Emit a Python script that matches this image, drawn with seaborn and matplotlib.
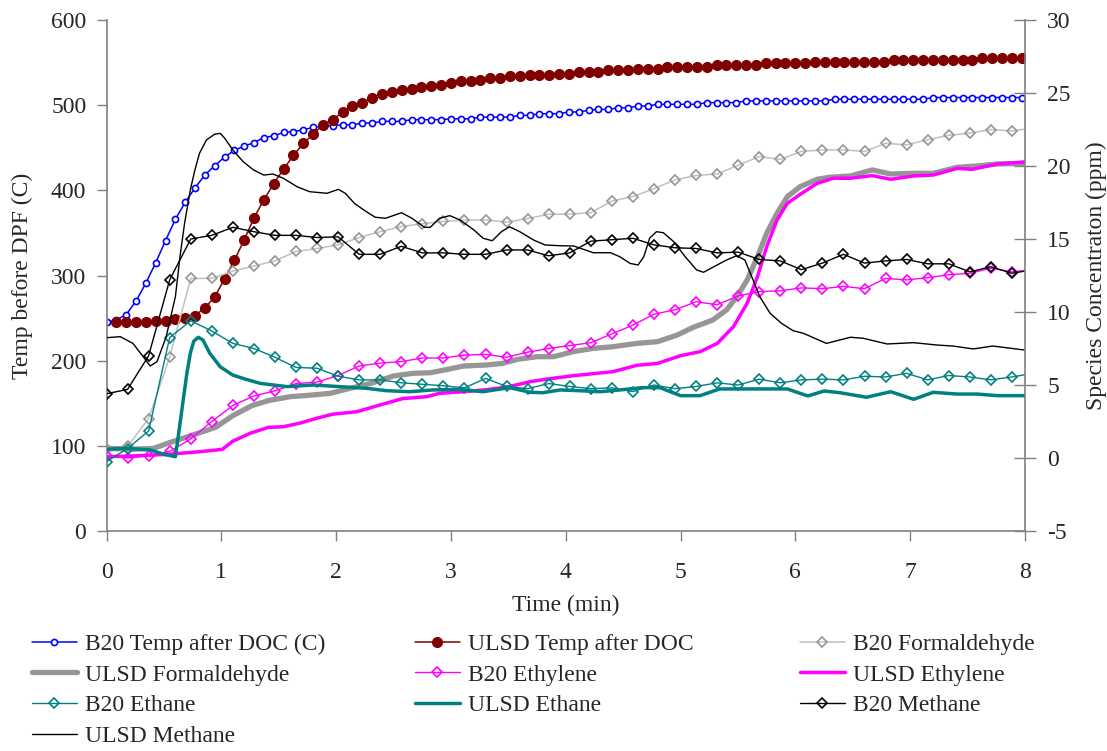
import numpy as np
import matplotlib
matplotlib.use("Agg")
import matplotlib.pyplot as plt
import seaborn as sns

# ---- data ----
# temperatures (left axis), sampled every ~5.1 s
TEMP_STEP = 0.0857
b20_temp = [245, 248, 254, 270, 291, 315, 341, 366, 386, 403,
            418, 429, 439, 447, 452, 456, 462, 464, 468, 469,
            471, 474, 475, 476, 477, 477, 479, 479, 481, 481,
            481, 483, 483, 483, 483, 484, 484, 484, 486, 486,
            486, 486, 488, 488, 490, 490, 490, 492, 492, 494,
            495, 495, 497, 497, 499, 499, 501, 501, 501, 501,
            501, 503, 503, 503, 503, 505, 505, 505, 505, 505,
            505, 505, 505, 505, 507, 507, 507, 507, 507, 507,
            507, 507, 507, 507, 509, 509, 509, 509, 509, 509,
            509, 509, 509, 509, 509]
# ULSD temperature starts one sample later
ulsd_temp = [245, 245, 245, 245, 247, 247, 249, 250, 253,
             262, 275, 296, 318, 342, 368, 389, 408, 425, 441,
             455, 466, 477, 483, 492, 499, 503, 509, 513, 516,
             518, 519, 521, 522, 524, 526, 528, 528, 530, 532,
             532, 534, 534, 535, 535, 535, 537, 537, 539, 539,
             539, 541, 541, 541, 543, 543, 543, 545, 545, 545,
             545, 545, 547, 547, 547, 547, 547, 549, 549, 549,
             549, 549, 551, 551, 551, 551, 551, 551, 551, 551,
             553, 553, 553, 553, 553, 553, 553, 553, 553, 555,
             555, 555, 555, 555, 555]

# B20 species (right axis), sampled every ~11 s
B20_STEP = 0.1834
b20_formaldehyde = [0.65, 0.8, 2.7, 6.9, 12.3, 12.3, 12.8, 13.15, 13.5, 14.15,
                    14.35, 14.6, 15.1, 15.5, 15.85, 16.05, 16.2, 16.3, 16.3, 16.15,
                    16.4, 16.7, 16.7, 16.8, 17.6, 17.9, 18.45, 19.05, 19.35, 19.45,
                    20.05, 20.65, 20.45, 21.0, 21.1, 21.1, 21.0, 21.55, 21.45, 21.8,
                    22.1, 22.25, 22.5, 22.4, 22.6]
b20_ethylene = [0.15, 0.0, 0.15, 0.45, 1.3, 2.5, 3.6, 4.25, 4.6, 5.1,
                5.2, 5.65, 6.3, 6.5, 6.6, 6.85, 6.85, 7.05, 7.1, 6.9,
                7.25, 7.5, 7.7, 7.9, 8.5, 9.1, 9.85, 10.15, 10.7, 10.5,
                11.1, 11.4, 11.45, 11.65, 11.6, 11.75, 11.6, 12.3, 12.2, 12.35,
                12.55, 12.65, 13.0, 12.75, 12.9]
b20_ethane = [-0.25, 0.65, 1.85, 8.25, 9.4, 8.7, 7.85, 7.5, 6.9, 6.2,
              6.15, 5.6, 5.35, 5.35, 5.15, 5.05, 4.95, 4.8, 5.45, 4.9,
              4.75, 5.1, 4.9, 4.75, 4.8, 4.55, 5.0, 4.75, 4.9, 5.15,
              5.0, 5.4, 5.15, 5.35, 5.4, 5.35, 5.6, 5.55, 5.8, 5.35,
              5.65, 5.55, 5.35, 5.55, 5.8]
b20_methane = [4.4, 4.7, 7.0, 12.2, 15.0, 15.25, 15.8, 15.5, 15.25, 15.25,
               15.1, 15.15, 13.95, 13.95, 14.5, 14.05, 14.05, 13.95, 13.95, 14.25,
               14.25, 13.85, 14.05, 14.85, 14.95, 15.05, 14.6, 14.4, 14.35, 14.05,
               14.1, 13.6, 13.5, 12.9, 13.35, 13.95, 13.35, 13.5, 13.6, 13.3,
               13.3, 12.75, 13.1, 12.65, 12.9]

# ULSD species (right axis), read at the curve's turning points
t_ulsd_form = [0.0, 0.23, 0.41, 0.53, 0.70, 0.81, 0.95, 1.10, 1.27, 1.42,
               1.60, 1.77, 1.95, 2.12, 2.30, 2.50, 2.67, 2.82, 2.97, 3.11,
               3.31, 3.45, 3.58, 3.75, 3.89, 3.95, 4.06, 4.24, 4.41, 4.62,
               4.80, 4.97, 5.11, 5.28, 5.40, 5.49, 5.58, 5.67, 5.75, 5.84,
               5.93, 6.04, 6.19, 6.30, 6.48, 6.67, 6.83, 7.03, 7.20, 7.41,
               7.58, 7.76, 8.04]
ulsd_formaldehyde = [0.66, 0.6, 0.66, 1.0, 1.44, 1.73, 2.1, 2.9, 3.6, 3.95,
                     4.2, 4.3, 4.43, 4.77, 5.11, 5.62, 5.8, 5.84, 6.07, 6.3,
                     6.37, 6.48, 6.76, 6.94, 6.94, 7.05, 7.28, 7.51, 7.62, 7.85,
                     7.97, 8.42, 8.95, 9.45, 10.14, 11.05, 12.19, 13.79, 15.39, 16.76,
                     17.9, 18.58, 19.09, 19.23, 19.32, 19.73, 19.45, 19.5, 19.5, 19.91,
                     20.0, 20.14, 20.18]

t_ulsd_ethylene = [0.0, 0.23, 0.53, 0.81, 0.96, 1.01, 1.10, 1.25, 1.41, 1.54,
                   1.69, 1.83, 1.97, 2.18, 2.38, 2.58, 2.79, 2.90, 3.11, 3.31,
                   3.51, 3.69, 3.86, 4.08, 4.41, 4.62, 4.80, 5.00, 5.17, 5.32,
                   5.46, 5.58, 5.67, 5.75, 5.84, 5.93, 6.04, 6.19, 6.33, 6.48,
                   6.67, 6.83, 7.03, 7.20, 7.41, 7.54, 7.76, 8.04]
ulsd_ethylene = [0.09, 0.14, 0.25, 0.43, 0.55, 0.6, 1.15, 1.69, 2.1, 2.14,
                 2.4, 2.72, 3.0, 3.17, 3.63, 4.07, 4.2, 4.43, 4.54, 4.68,
                 4.89, 5.23, 5.43, 5.65, 5.91, 6.35, 6.48, 7.01, 7.28, 7.85,
                 8.99, 10.6, 12.42, 14.47, 16.3, 17.44, 18.05, 18.81, 19.16, 19.16,
                 19.34, 19.09, 19.32, 19.38, 19.84, 19.77, 20.14, 20.3]

t_ulsd_ethane = [0.0, 0.18, 0.38, 0.50, 0.60, 0.62, 0.66, 0.70, 0.73, 0.76,
                 0.80, 0.84, 0.90, 0.99, 1.10, 1.21, 1.34, 1.57, 1.80, 2.03,
                 2.27, 2.44, 2.64, 2.84, 3.08, 3.28, 3.51, 3.69, 3.80, 3.95,
                 4.12, 4.30, 4.47, 4.67, 4.82, 5.00, 5.17, 5.34, 5.93, 6.04,
                 6.11, 6.25, 6.39, 6.62, 6.83, 7.03, 7.20, 7.41, 7.58, 7.76,
                 8.04]
ulsd_ethane = [0.6, 0.66, 0.55, 0.25, 0.09, 1.2, 3.5, 5.8, 7.17, 8.0,
               8.27, 8.08, 7.17, 6.25, 5.68, 5.4, 5.11, 4.89, 5.0, 4.89,
               4.77, 4.61, 4.54, 4.66, 4.7, 4.54, 4.82, 4.5, 4.47, 4.66,
               4.61, 4.54, 4.66, 4.82, 4.82, 4.27, 4.27, 4.73, 4.73, 4.43,
               4.25, 4.59, 4.47, 4.16, 4.54, 4.02, 4.5, 4.38, 4.38, 4.27,
               4.27]

t_ulsd_methane = [0.0, 0.12, 0.23, 0.32, 0.38, 0.44, 0.52, 0.60, 0.64, 0.68,
                  0.73, 0.77, 0.81, 0.87, 0.94, 0.99, 1.03, 1.10, 1.19, 1.28,
                  1.37, 1.45, 1.54, 1.66, 1.77, 1.92, 2.02, 2.08, 2.16, 2.24,
                  2.34, 2.43, 2.57, 2.66, 2.77, 2.82, 2.90, 2.99, 3.08, 3.20,
                  3.28, 3.36, 3.44, 3.51, 3.60, 3.72, 3.82, 3.95, 4.07, 4.24,
                  4.39, 4.47, 4.56, 4.63, 4.68, 4.73, 4.79, 4.85, 4.94, 5.04,
                  5.14, 5.20, 5.29, 5.40, 5.49, 5.56, 5.62, 5.69, 5.78, 5.88,
                  5.98, 6.07, 6.27, 6.48, 6.59, 6.80, 7.03, 7.23, 7.37, 7.55,
                  7.72, 8.04]
ulsd_methane = [8.24, 8.31, 7.85, 6.94, 6.3, 6.6, 8.31, 11.05, 13.79, 16.07,
                18.36, 19.73, 20.87, 21.78, 22.17, 22.24, 21.9, 21.1, 20.3, 19.73,
                19.38, 19.45, 19.16, 18.58, 18.24, 18.13, 18.4, 18.13, 17.44, 16.99,
                16.49, 16.42, 16.8, 16.42, 15.8, 15.8, 16.42, 16.6, 16.3, 15.62,
                15.05, 14.88, 15.5, 15.84, 15.5, 14.93, 14.59, 14.54, 14.52, 14.06,
                14.06, 13.79, 13.33, 13.22, 13.79, 15.05, 15.5, 15.43, 14.82, 13.79,
                12.88, 12.72, 13.1, 13.56, 13.86, 13.56, 12.42, 11.05, 9.91, 9.22,
                8.72, 8.54, 7.85, 8.27, 8.2, 7.81, 7.9, 7.74, 7.67, 7.47,
                7.67, 7.35]

labels = ["B20 Temp after DOC (C)", "ULSD Temp after DOC", "B20 Formaldehyde",
          "ULSD Formaldehyde", "B20 Ethylene", "ULSD Ethylene",
          "B20 Ethane", "ULSD Ethane", "B20 Methane", "ULSD Methane"]

t_temp = np.arange(len(b20_temp)) * TEMP_STEP
t_b20 = np.arange(len(b20_methane)) * B20_STEP

# ---- figure ----
sns.set_style("white")
plt.rcParams['font.family'] = ['Liberation Serif', 'DejaVu Serif']
plt.rcParams['axes.unicode_minus'] = False
FS = 17
AXIS_GRAY = '#808080'

fig = plt.figure(figsize=(11.07, 7.51), dpi=100)
ax = fig.add_axes([106.5 / 1107, 1 - 531 / 751, (1025 - 106.5) / 1107, 511 / 751])
ax2 = ax.twinx()

handles = []

# temperatures on the left axis
sns.lineplot(x=t_temp, y=b20_temp, ax=ax, color='#0000FF', linewidth=1.1,
             marker='o', markersize=4.4, markerfacecolor='white',
             markeredgecolor='#0000FF', markeredgewidth=1.2)
handles.append(ax.lines[-1])
sns.lineplot(x=t_temp[1:], y=ulsd_temp, ax=ax, color='#800000', linewidth=1.1,
             marker='o', markersize=7, markerfacecolor='#800000',
             markeredgecolor='#800000', markeredgewidth=1)
handles.append(ax.lines[-1])

# species on the right axis
diamond = dict(marker='D', markersize=5.3, markerfacecolor='none', markeredgewidth=1.2)

sns.lineplot(x=t_b20, y=b20_formaldehyde, ax=ax2, color='#C0C0C0', linewidth=1.1,
             markeredgecolor='#969696', **diamond)
handles.append(ax2.lines[-1])
sns.lineplot(x=t_ulsd_form, y=ulsd_formaldehyde, ax=ax2, color='#969696', linewidth=3.8)
handles.append(ax2.lines[-1])
sns.lineplot(x=t_b20, y=b20_ethylene, ax=ax2, color='#FF00FF', linewidth=1.0,
             markeredgecolor='#FF00FF', **diamond)
handles.append(ax2.lines[-1])
sns.lineplot(x=t_ulsd_ethylene, y=ulsd_ethylene, ax=ax2, color='#FF00FF', linewidth=2.5)
handles.append(ax2.lines[-1])
sns.lineplot(x=t_b20, y=b20_ethane, ax=ax2, color='#008080', linewidth=1.0,
             markeredgecolor='#008080', **diamond)
handles.append(ax2.lines[-1])
sns.lineplot(x=t_ulsd_ethane, y=ulsd_ethane, ax=ax2, color='#008080', linewidth=2.5)
handles.append(ax2.lines[-1])
sns.lineplot(x=t_b20, y=b20_methane, ax=ax2, color='black', linewidth=1.0,
             markeredgecolor='black', **diamond)
handles.append(ax2.lines[-1])
sns.lineplot(x=t_ulsd_methane, y=ulsd_methane, ax=ax2, color='black', linewidth=1.0)
handles.append(ax2.lines[-1])

# axes
ax.set_xlim(0, 8)
ax.set_ylim(0, 600)
ax2.set_ylim(-5, 30)
ax.set_xticks(range(0, 9))
ax.set_yticks(range(0, 601, 100))
ax2.set_yticks(range(-5, 31, 5))

for a in (ax, ax2):
    a.spines['top'].set_visible(False)
    for s in ('left', 'right', 'bottom'):
        a.spines[s].set_color(AXIS_GRAY)
        a.spines[s].set_linewidth(1.2)
ax.spines['right'].set_visible(False)
ax2.spines['left'].set_visible(False)
ax2.spines['bottom'].set_visible(False)

ax.tick_params(axis='y', direction='out', length=7, width=1, color=AXIS_GRAY,
               pad=7.5, labelsize=FS, left=True)
ax.tick_params(axis='x', direction='out', length=7, width=1, color=AXIS_GRAY,
               pad=15, labelsize=FS, bottom=True)
ax2.tick_params(axis='y', direction='inout', length=16, width=1, color=AXIS_GRAY,
                pad=8, labelsize=FS, right=True)

ax.set_xlabel('Time (min)', fontsize=FS, labelpad=9)
ax.set_ylabel('Temp before DPF (C)', fontsize=FS, labelpad=13)
ax2.set_ylabel('Species Concentraton (ppm)', fontsize=FS, labelpad=11)

# legend laid out in three columns, filled row by row
col_x = [32 / 1107, 415 / 1107, 800 / 1107]
col_items = [[0, 3, 6, 9], [1, 4, 7], [2, 5, 8]]
for x0, items in zip(col_x, col_items):
    fig.legend(handles=[handles[i] for i in items], labels=[labels[i] for i in items],
               loc='upper left', bbox_to_anchor=(x0, 0.1565), frameon=False,
               borderaxespad=0, borderpad=0, handlelength=1.9, handletextpad=0.35,
               labelspacing=0.39, fontsize=FS)

fig.savefig('out.png', dpi=100)
